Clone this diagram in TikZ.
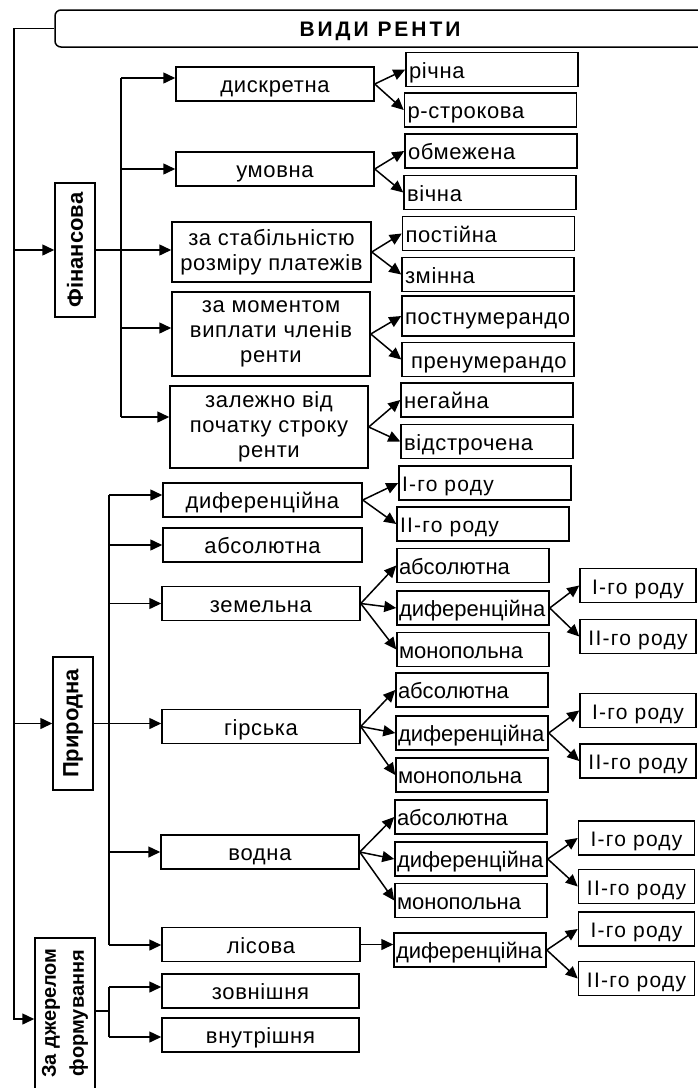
\documentclass[tikz,border=0pt]{standalone}
\usepackage{fontspec}
\setmainfont{Liberation Sans}
\usetikzlibrary{arrows.meta, positioning, calc}

\newcommand{\txtfont}{\fontsize{22}{25}\selectfont\addfontfeature{LetterSpace=3}}

\tikzset{
    box/.style={draw, line width=1.5pt, minimum height=34pt, inner xsep=3pt, inner ysep=1pt},
    one/.style={text height=17pt, text depth=0pt},
    mid/.style={box, one, minimum width=#1, align=center},
    multi/.style={box, minimum width=#1, align=center},
    leaf/.style={box, one, text width=#1, align=left},
    narrow/.style={leaf=146pt, inner xsep=2pt, text width=148pt, font=\fontsize{22}{25}\selectfont},
    rod/.style={font=\fontsize{21}{24}\selectfont\addfontfeature{LetterSpace=6}},
    side/.style={box, rotate=90, font=\fontsize{22}{27}\selectfont\bfseries, minimum width=#1, minimum height=40pt, align=center},
    ln/.style={line width=1.5pt},
    arr/.style={ln, -{Triangle[length=12pt, width=11pt]}},
}

\begin{document}
\begin{tikzpicture}[x=1pt, y=-1pt, every node/.style={font=\txtfont}]
    \useasboundingbox (0,0) rectangle (697,1088);

    % title
    \node[box, rounded corners=6pt, minimum width=650pt, minimum height=37pt, text height=15pt, text depth=0pt,
          font=\fontsize{21}{24}\selectfont\bfseries\addfontfeature{LetterSpace=14}] (title) at (380,28.5) {ВИДИ РЕНТИ};

    % side boxes
    \node[side=134pt] (fin) at (75,250) {Фінансова};
    \node[side=133pt] (prir) at (73,723.5) {Природна};
    \node[side=162pt, minimum height=60pt, font=\fontsize{20}{28}\selectfont\bfseries] (dz) at (65,1019)
        {\hspace*{12pt}За джерелом\\\hspace*{12pt}формування};

    % left trunk
    \coordinate (t0) at (14,28.5);
    \draw[arr] (title.west) -- (t0) |- (dz.north);
    \draw[arr] (t0 |- fin) -- (fin.north);
    \draw[arr] (t0 |- prir) -- (prir.north);

    % financial rent
    \node[mid=198pt] (dysk) at (275,84) {дискретна};
    \node[mid=198pt] (umov) at (275,169) {умовна};
    \node[multi=199pt, minimum height=60pt] (stab) at (271.5,252) {за стабільністю\\розміру платежів};
    \node[multi=198pt, minimum height=84pt] (mom) at (271,334) {за моментом\\виплати членів\\ренти};
    \node[multi=198pt, minimum height=82pt] (zal) at (269,427) {залежно від\\початку строку\\ренти};

    \foreach \nm/\xx/\yy/\txt in {richna/492/69.5/річна, rstr/490.5/110/р-строкова,
            obm/491/151/обмежена, vichna/490/192.5/вічна,
            post/488.5/233.5/постійна, zmin/488/274.5/змінна,
            neg/487/400/негайна, vidstr/487/441.5/відстрочена}
        \node[leaf=166pt] (\nm) at (\xx,\yy) {\txt};
    \node[leaf=166pt, minimum height=40pt] (postn) at (488,316) {постнумерандо};
    \node[leaf=166pt] (pren) at (488,359.5) {\hspace*{6pt}пренумерандо};

    \coordinate (fb1) at (121,78);
    \coordinate (fb3) at (121,328);
    \coordinate (fb5) at (121,417);
    \draw[ln] (fb1) -- (fb5);
    \draw[arr] (fb1) -- (fb1 -| dysk.west);
    \draw[arr] (fb1 |- umov.west) -- (umov.west);
    \draw[arr] (fin.south) -- (fin.south -| stab.west); % south = right side (rotated)
    \draw[arr] (fb3) -- (fb3 -| mom.west);
    \draw[arr] (fb5) -- (fb5 -| zal.west);

    \foreach \p/\c in {dysk/richna, dysk/rstr, umov/obm, umov/vichna, stab/post, stab/zmin,
            mom/postn, mom/pren, zal/neg, zal/vidstr}
        \draw[arr] (\p.east) -- (\c.west);

    % natural rent
    \node[mid=199pt] (dyf) at (262.5,500) {диференційна};
    \node[mid=199pt] (abs) at (262.5,545) {абсолютна};
    \node[mid=198pt] (zem) at (261,603.5) {земельна};
    \node[mid=198pt] (hir) at (261,726.5) {гірська};
    \node[mid=198pt] (vod) at (260,852) {водна};
    \node[mid=198pt] (lis) at (261,944.5) {лісова};

    \node[leaf=166pt, rod] (dI) at (485,483) {I-го роду};
    \node[leaf=166pt, rod] (dII) at (483,524) {II-го роду};

    \foreach \g/\xx/\ya/\yb/\yc in {z/473/565.5/608/649.5, h/472/690/733/775, v/471/817/859/900.5} {
        \node[narrow] (\g abs) at (\xx,\ya) {абсолютна};
        \node[narrow] (\g dyf) at (\xx,\yb) {диференційна};
        \node[narrow] (\g mon) at (\xx,\yc) {монопольна};
    }
    \node[narrow] (ldyf) at (470,950) {диференційна};

    \foreach \g/\xx/\ya/\yb in {z/638/585.5/636.5, h/638/710.5/761, v/636.5/838/886.5, l/636.5/929/978.5} {
        \node[mid=116pt, rod] (\g I) at (\xx,\ya) {I-го роду};
        \node[mid=116pt, rod] (\g II) at (\xx,\yb) {II-го роду};
    }

    \coordinate (pb1) at (109,495);
    \coordinate (pb2) at (109,945);
    \draw[ln] (pb1) -- (pb2);
    \draw[arr] (pb1) -- (pb1 -| dyf.west);
    \draw[arr] (pb1 |- abs.west) -- (abs.west);
    \draw[arr] (pb1 |- zem.west) -- (zem.west);
    \draw[arr] (prir.south) -- (prir.south -| hir.west);
    \draw[arr] (pb1 |- vod.west) -- (vod.west);
    \draw[arr] (pb2) -- (pb2 -| lis.west);
    \draw[arr] (lis.east) -- (lis.east -| ldyf.west);

    \foreach \p/\c in {dyf/dI, dyf/dII,
            zem/zabs, zem/zdyf, zem/zmon, zdyf/zI, zdyf/zII,
            hir/habs, hir/hdyf, hir/hmon, hdyf/hI, hdyf/hII,
            vod/vabs, vod/vdyf, vod/vmon, vdyf/vI, vdyf/vII,
            ldyf/lI, ldyf/lII}
        \draw[arr] (\p.east) -- (\c.west);

    % source of formation
    \node[mid=197pt] (zovn) at (260.5,991) {зовнішня};
    \node[mid=197pt] (vnut) at (260.5,1035) {внутрішня};
    \coordinate (db1) at (109,1011);
    \coordinate (db2) at (109,987);
    \coordinate (db3) at (109,1037);
    \draw[ln] (dz.south |- db1) -- (db1);
    \draw[ln] (db2) -- (db3);
    \draw[arr] (db2) -- (db2 -| zovn.west);
    \draw[arr] (db3) -- (db3 -| vnut.west);
\end{tikzpicture}
\end{document}
